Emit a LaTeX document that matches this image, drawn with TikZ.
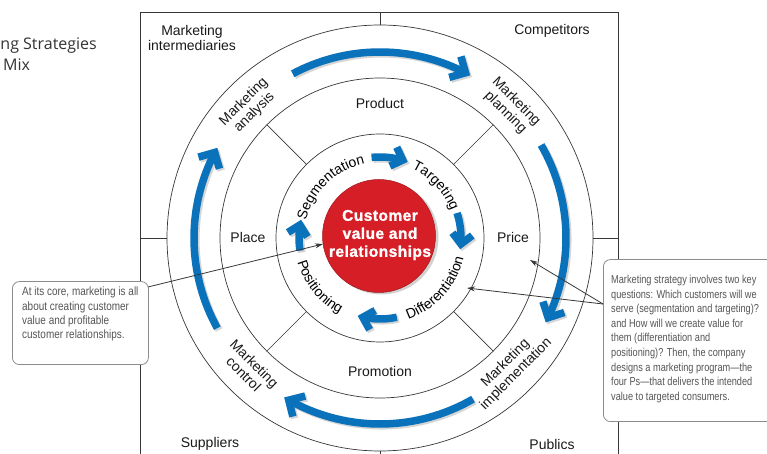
\documentclass[tikz,border=0pt]{standalone}
\usepackage{fontspec}
\setmainfont{Liberation Sans}
\newfontfamily\narrowfont[FakeStretch=0.83]{Liberation Sans}
\newfontfamily\rnarrowfont[FakeStretch=0.8]{Liberation Sans}
\newfontfamily\titlefont{Open Sans}
\newfontfamily\heavyfont[FakeBold=1.4,LetterSpace=3]{Liberation Sans Bold}
\usetikzlibrary{arrows.meta,decorations.text}
\definecolor{mblue}{RGB}{10,114,186}
\definecolor{mred}{RGB}{214,30,38}
\definecolor{lineg}{RGB}{55,55,55}
\definecolor{txtg}{RGB}{85,85,85}
% clockwise blue arc with a heavy chevron head: radius, start, end, arm
\newcommand\mkarc[4]{%
  \pgfmathsetmacro\arcdir{#3-90}%
  \pgfmathsetmacro\arcend{#3+9/#1*57.2958}%
  \foreach \col/\sx/\sy in {black!16/1.8/-1.8, mblue/0/0} {%
    \begin{scope}[transform canvas={xshift=\sx pt,yshift=\sy pt}]
      \draw[draw=\col, line width=7.5pt, shift={(380,216)}] (#2:#1) arc[start angle=#2,end angle=\arcend,radius=#1];
      \draw[draw=\col, line width=7.5pt, line join=miter, shift={(380,216)}, shift={(#3:#1)}, rotate=\arcdir] (-5.3-#4,#4) -- (-5.3,0) -- (-5.3-#4,-#4);
    \end{scope}}}
\begin{document}
\begin{tikzpicture}[x=1pt,y=1pt,
  frame/.style={draw=lineg, line width=0.8pt},
  ring/.style={draw=lineg, line width=0.7pt},
  lbl/.style={font=\fontsize{14}{15}\selectfont, align=center, text=black!90, inner sep=0pt},
  callout/.style={draw=black!45, line width=0.8pt, rounded corners=7pt, fill=white},
  pointer/.style={draw=lineg, line width=0.8pt, -{Stealth[length=8pt,width=5pt]}},
  curvetext/.style={decorate, decoration={text along path, text align=center, text={|\fontsize{14}{14}\selectfont|#1}}}
]
\useasboundingbox (0,0) rectangle (767,454);
\clip (0,0) rectangle (767,454);

% frame
\draw[frame] (140,-5) -- (140,442) -- (618,442) -- (618,-5);
\draw[frame] (380,442) -- (380,429);
\draw[frame] (380,3) -- (380,-5);
\draw[frame] (140,216) -- (167,216);
\draw[frame] (593,216) -- (618,216);

% rings
\begin{scope}[shift={(380,216)}]
  \draw[ring] (0,0) circle[radius=213];
  \draw[ring] (0,0) circle[radius=160];
  \draw[ring] (0,0) circle[radius=104];
  \foreach \a in {45,135,225,315} \draw[ring] (\a:104) -- (\a:160);
  % outer process labels
  \node[lbl, rotate=45] (analysis) at (135:185) {Marketing\\analysis};
  \node[lbl, rotate=-45] (planning) at (45:185) {Marketing\\planning};
  \node[lbl, rotate=45] (implementation) at (-45:185) {Marketing\\implementation};
  \node[lbl, rotate=-45] (control) at (225:185) {Marketing\\control};
  % 4 Ps
  \node[lbl] (product) at (90:134) {Product};
  \node[lbl] (place) at (180:132) {Place};
  \node[lbl] (price) at (0:133) {Price};
  \node[lbl] (promotion) at (-90:133) {Promotion};
  % curved STP labels
  \path[curvetext=Segmentation] (194:76) arc[start angle=194,end angle=74,radius=76];
  \path[curvetext=Targeting] (103:76) arc[start angle=103,end angle=-17,radius=76];
  \path[curvetext=Differentiation] (-102:86) arc[start angle=-102,end angle=18,radius=86];
  \path[curvetext=Positioning] (159:86) arc[start angle=159,end angle=279,radius=86];
\end{scope}

% outer arrows
\mkarc{186}{118}{61}{12}
\mkarc{186}{30}{-27}{12}
\mkarc{186}{-60}{-121}{12}
\mkarc{186}{209}{151}{12}
% inner arrows
\mkarc{81}{96}{70}{10}
\mkarc{81}{18}{-8}{10}
\mkarc{81}{-78}{-106}{10}
\mkarc{81}{189}{167}{10}

% core
\fill[black!18] (381.5,216.5) circle[radius=57];
\node[circle, fill=mred, draw=mred!75!black, line width=0.5pt, minimum size=113pt, inner sep=0pt] (core) at (379,218) {};
\node[align=center, text=white, font=\heavyfont\fontsize{15.5}{18}\selectfont, inner sep=0pt] (coretext) at (380,219) {Customer\\value and\\relationships};

% environment labels
\node[lbl] (intermediaries) at (192,416) {Marketing\\intermediaries};
\node[lbl] (competitors) at (552,423) {Competitors};
\node[lbl] (suppliers) at (210,10) {Suppliers};
\node[lbl] (publics) at (552,10) {Publics};

% title fragment
\node[anchor=base east, inner sep=0pt, font=\titlefont\fontsize{16}{16}\selectfont, text=black!80] (title1) at (97,404) {ng Strategies};
\node[anchor=base west, inner sep=0pt, font=\titlefont\fontsize{16}{16}\selectfont, text=black!80] (title2) at (3,383) {Mix};

% callouts
\node[callout, minimum width=136pt, minimum height=83pt, anchor=south west] (lbox) at (12,89) {};
\node[anchor=north west, inner sep=0pt, align=left, text=txtg, font=\narrowfont\fontsize{12}{14.3}\selectfont] (ltext) at (22,167)
  {At its core, marketing is all\\about creating customer\\value and profitable\\customer relationships.};
\node[callout, minimum width=190pt, minimum height=162pt, anchor=south west] (rbox) at (603,32) {};
\node[anchor=north west, inner sep=0pt, align=left, text=txtg, font=\rnarrowfont\fontsize{11.5}{14.6}\selectfont] (rtext) at (611,179)
  {Marketing strategy involves two key\\questions: Which customers will we\\serve (segmentation and targeting)?\\and How will we create value for\\them (differentiation and\\positioning)? Then, the company\\designs a marketing program—the\\four Ps—that delivers the intended\\value to targeted consumers.};

\coordinate (lptr) at (148,167);
\coordinate (coretip) at (323,210);
\coordinate (rptr) at (603,150);
\coordinate (pricetip) at (530,194);
\coordinate (difftip) at (467,166);
\draw[pointer] (lptr) -- (coretip);
\draw[pointer] (rptr) -- (pricetip);
\draw[pointer] (rptr) -- (difftip);
\end{tikzpicture}
\end{document}
